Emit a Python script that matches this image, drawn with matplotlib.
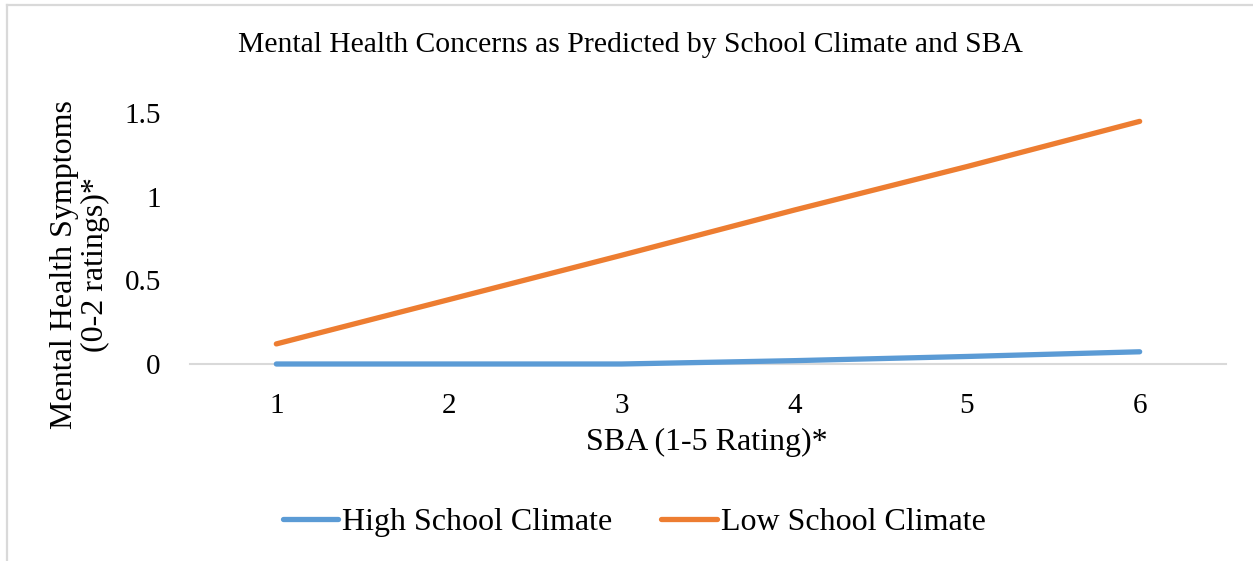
import matplotlib
matplotlib.use("Agg")
import matplotlib.pyplot as plt
from matplotlib.lines import Line2D

categories = [1, 2, 3, 4, 5, 6]
high_climate = [0.0, 0.0, 0.0, 0.02, 0.045, 0.073]
low_climate = [0.12, 0.385, 0.65, 0.92, 1.18, 1.45]
yticks = [0, 0.5, 1, 1.5]
ytick_labels = ["0", "0.5", "1", "1.5"]

plt.rcParams['font.family'] = ['Liberation Serif', 'DejaVu Serif']

W, H = 1253, 561
fig = plt.figure(figsize=(W / 100, H / 100), dpi=100)

# chart border (light gray), top-left visible
fig.add_artist(Line2D([7 / W, 7 / W], [0, 1 - 5 / H], color='#D9D9D9', lw=1.6, transform=fig.transFigure))
fig.add_artist(Line2D([7 / W, 1], [1 - 5 / H, 1 - 5 / H], color='#D9D9D9', lw=1.6, transform=fig.transFigure))

ax = fig.add_axes([190 / W, 1 - 364 / H, 1036 / W, (364 - 113) / H])
blue = '#5B9BD5'
orange = '#ED7D31'
ax.plot(categories, high_climate, color=blue, lw=3.8, solid_capstyle='round', clip_on=False, zorder=3,
        label='High School Climate')
ax.plot(categories, low_climate, color=orange, lw=3.8, solid_capstyle='round', clip_on=False, zorder=3,
        label='Low School Climate')

ax.set_xlim(0.5, 6.5)
ax.set_ylim(0, 1.5)
ax.set_xticks(categories)
ax.set_xticklabels([str(c) for c in categories])
ax.set_yticks(yticks)
ax.set_yticklabels(ytick_labels)
for s in ['top', 'right', 'left']:
    ax.spines[s].set_visible(False)
ax.spines['bottom'].set_color('#D9D9D9')
ax.spines['bottom'].set_linewidth(1.5)
ax.spines['bottom'].set_zorder(1)
ax.tick_params(axis='both', length=0, labelsize=21, colors='black')
ax.tick_params(axis='x', pad=21)
ax.tick_params(axis='y', pad=21)

fig.text(630 / W, 1 - 45 / H, 'Mental Health Concerns as Predicted by School Climate and SBA',
         ha='center', va='center', fontsize=21.3)
fig.text(707 / W, 1 - 442 / H, 'SBA (1-5 Rating)*', ha='center', va='center', fontsize=23)
fig.text(80 / W, 1 - 265 / H, 'Mental Health Symptoms\n(0-2 ratings)*', ha='center', va='center',
         rotation=90, fontsize=23, linespacing=1.1)

leg = fig.legend(loc='center', bbox_to_anchor=(634 / W, 1 - 522 / H), ncol=2, frameon=False,
                 fontsize=23, handlelength=1.75, handletextpad=0.1, columnspacing=1.55)

fig.savefig('out.png', dpi=100)
